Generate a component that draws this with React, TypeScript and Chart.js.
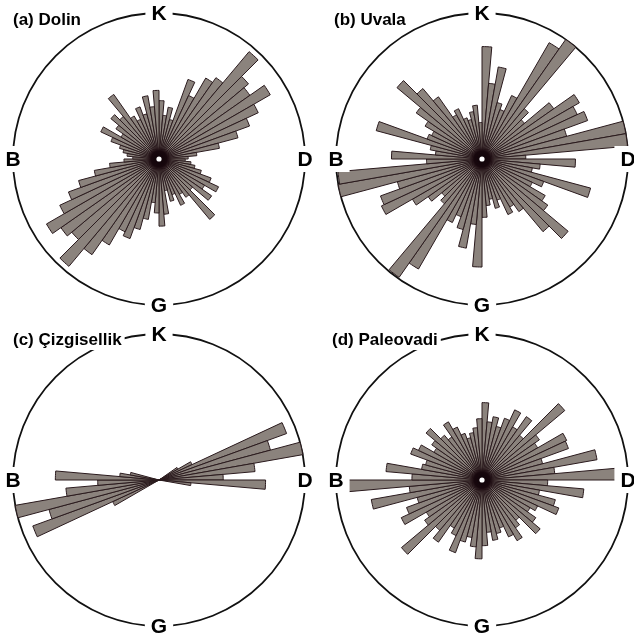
import React, { useEffect, useRef } from "react";
import { Chart, registerables } from "chart.js";

Chart.register(...registerables);

// 72 direction bins of 5° (azimuth, clockwise from north)
const binLabels: string[] = [];
for (let i = 0; i < 72; i++) binLabels.push(`${i * 5}°-${i * 5 + 5}°`);

const cardinalLabels = ["K", "D", "G", "B"];

const titles = ["(a) Dolin", "(b) Uvala", "(c) Çizgisellik", "(d) Paleovadi"];

// relative frequency (% of the outer circle radius)
const dolinValues = [
  40, 30, 36, 28, 58, 48, 64, 68, 96, 80, 76, 88, 75, 66, 56, 42, 26, 20,
  18, 22, 25, 30, 38, 45, 36, 44, 30, 54, 32, 28, 35, 26, 30, 22, 38, 46,
  37, 30, 42, 50, 58, 55, 68, 80, 96, 78, 82, 89, 75, 66, 57, 45, 34, 24,
  18, 22, 25, 28, 35, 44, 30, 36, 43, 38, 54, 34, 30, 38, 32, 44, 36, 47,
];

const uvalaValues = [
  77, 52, 64, 40, 36, 48, 92, 100, 45, 38, 60, 77, 72, 77, 60, 100, 100, 30,
  64, 40, 35, 77, 45, 38, 50, 55, 77, 65, 44, 38, 42, 30, 35, 28, 32, 40,
  74, 45, 62, 50, 42, 48, 87, 99, 40, 36, 45, 55, 76, 74, 60, 100, 99, 38,
  62, 32, 36, 75, 40, 38, 45, 55, 76, 63, 52, 35, 38, 30, 28, 33, 37, 25,
];

const cizgisellikValues = [
  0, 0, 0, 0, 0, 0, 0, 0, 0, 0, 0, 15, 25, 93, 79, 100, 66, 44,
  73, 22, 0, 0, 0, 0, 0, 0, 0, 0, 0, 0, 0, 0, 0, 0, 0, 0,
  0, 0, 0, 0, 0, 0, 0, 0, 0, 0, 0, 0, 35, 92, 78, 100, 64, 42,
  71, 27, 20, 0, 0, 0, 0, 0, 0, 0, 0, 0, 0, 0, 0, 0, 0, 0,
];

const paleovadiValues = [
  53, 40, 44, 38, 45, 53, 42, 53, 40, 74, 48, 44, 64, 63, 43, 80, 50, 94,
  45, 70, 40, 52, 56, 42, 38, 45, 52, 36, 40, 48, 43, 35, 38, 42, 36, 45,
  54, 46, 40, 44, 53, 42, 38, 52, 45, 72, 48, 44, 61, 55, 46, 77, 50, 92,
  48, 66, 42, 40, 52, 48, 38, 42, 50, 40, 36, 46, 40, 34, 30, 33, 36, 42,
];

const seriesList = [dolinValues, uvalaValues, cizgisellikValues, paleovadiValues];

const roseDecor = {
  id: "roseDecor",
  afterDatasetsDraw(chart: any, _args: any, opts: any) {
    const r = chart.scales.r;
    const cx = r.xCenter;
    const cy = r.yCenter;
    const R = r.drawingArea;
    const ctx = chart.ctx as CanvasRenderingContext2D;
    ctx.save();
    if (opts.dot) {
      const g = ctx.createRadialGradient(cx, cy, 0, cx, cy, 13);
      g.addColorStop(0, "rgba(15,3,8,1)");
      g.addColorStop(0.6, "rgba(22,6,12,0.95)");
      g.addColorStop(1, "rgba(40,20,25,0)");
      ctx.fillStyle = g;
      ctx.beginPath();
      ctx.arc(cx, cy, 13, 0, Math.PI * 2);
      ctx.fill();
      ctx.fillStyle = "#ffffff";
      ctx.beginPath();
      ctx.arc(cx, cy, 2.6, 0, Math.PI * 2);
      ctx.fill();
    }
    ctx.font = 'bold 21px "Liberation Sans", Arial, sans-serif';
    ctx.textAlign = "center";
    ctx.textBaseline = "middle";
    const pos = [
      [cx, cy - R],
      [cx + R, cy],
      [cx, cy + R],
      [cx - R, cy],
    ];
    cardinalLabels.forEach((t, i) => {
      const [x, y] = pos[i];
      const w = ctx.measureText(t).width;
      ctx.fillStyle = "#ffffff";
      ctx.fillRect(x - w / 2 - 6, y - 13, w + 12, 26);
      ctx.fillStyle = "#000000";
      ctx.fillText(t, x, y + 1);
    });
    ctx.font = 'bold 17px "Liberation Sans", Arial, sans-serif';
    ctx.textAlign = "left";
    ctx.textBaseline = "alphabetic";
    const tw = ctx.measureText(opts.title).width;
    ctx.fillStyle = "#ffffff";
    ctx.fillRect(opts.tx - 2, opts.ty - 15, tw + 5, 20);
    ctx.fillStyle = "#000000";
    ctx.fillText(opts.title, opts.tx, opts.ty);
    ctx.restore();
  },
};

type PanelProps = {
  index: number;
  left: number;
  top: number;
  padding: { left: number; right: number; top: number; bottom: number };
  tx: number;
  dot: boolean;
};

function RosePanel({ index, left, top, padding, tx, dot }: PanelProps) {
  const ref = useRef<HTMLCanvasElement | null>(null);
  useEffect(() => {
    if (!ref.current) return;
    const chart = new Chart(ref.current, {
      type: "polarArea",
      data: {
        labels: binLabels,
        datasets: [
          {
            data: seriesList[index],
            backgroundColor: "#8b837d",
            borderColor: "#2a1a1d",
            borderWidth: 1,
          },
        ],
      },
      options: {
        animation: false,
        responsive: false,
        maintainAspectRatio: false,
        layout: { padding },
        plugins: {
          legend: { display: false },
          tooltip: { enabled: false },
          roseDecor: { title: titles[index], tx, ty: 25, dot },
        } as any,
        scales: {
          r: {
            min: 0,
            max: 100,
            ticks: { display: false, stepSize: 100 },
            grid: { color: "#111111", lineWidth: 1.8, circular: true },
            angleLines: { display: false },
            pointLabels: { display: false },
          },
        },
      },
      plugins: [roseDecor as any],
    });
    return () => chart.destroy();
  }, []);
  return (
    <canvas
      ref={ref}
      width={317}
      height={320}
      style={{ position: "absolute", left, top, width: 317, height: 320 }}
    />
  );
}

export default function App() {
  return (
    <div
      style={{
        position: "absolute",
        left: 0,
        top: 0,
        width: 634,
        height: 640,
        background: "#ffffff",
        overflow: "hidden",
      }}
    >
      <RosePanel index={0} left={0} top={0} padding={{ left: 13, right: 12, top: 13, bottom: 15 }} tx={13} dot={true} />
      <RosePanel index={1} left={317} top={0} padding={{ left: 19, right: 6, top: 13, bottom: 15 }} tx={17} dot={true} />
      <RosePanel index={2} left={0} top={320} padding={{ left: 13, right: 12, top: 14, bottom: 14 }} tx={13} dot={false} />
      <RosePanel index={3} left={317} top={320} padding={{ left: 19, right: 6, top: 14, bottom: 14 }} tx={15} dot={true} />
    </div>
  );
}
